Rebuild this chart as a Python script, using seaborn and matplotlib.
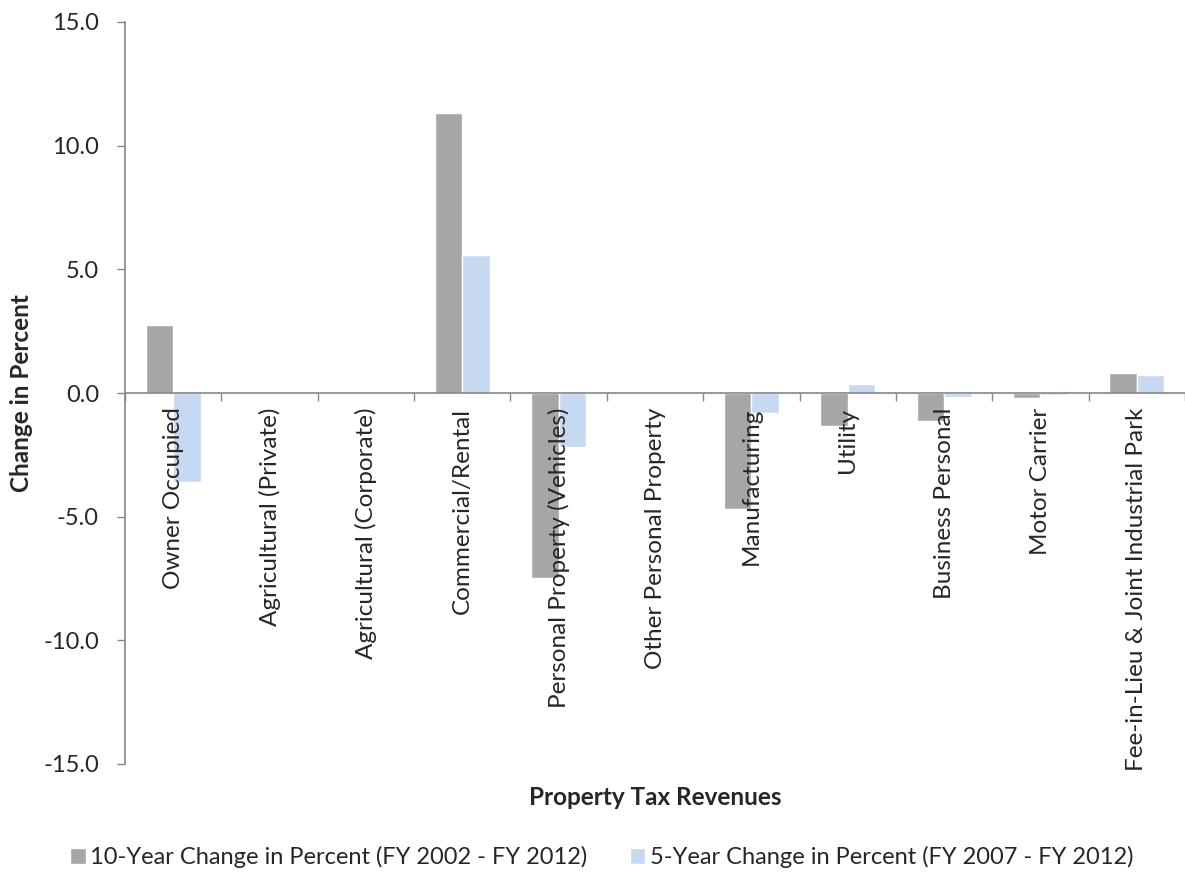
import numpy as np
import pandas as pd
import seaborn as sns
import matplotlib.pyplot as plt
from matplotlib.ticker import FuncFormatter, FixedLocator

categories = [
    "Owner Occupied", "Agricultural (Private)", "Agricultural (Corporate)",
    "Commercial/Rental", "Personal Property (Vehicles)", "Other Personal Property",
    "Manufacturing", "Utility", "Business Personal", "Motor Carrier",
    "Fee-in-Lieu & Joint Industrial Park",
]
ten_year = [2.74, -0.05, -0.04, 11.32, -7.47, 0.0, -4.70, -1.33, -1.14, -0.20, 0.80]
five_year = [-3.61, -0.02, -0.01, 5.57, -2.17, 0.02, -0.80, 0.38, -0.16, -0.10, 0.74]
series_names = ["10-Year Change in Percent (FY 2002 - FY 2012)",
                "5-Year Change in Percent (FY 2007 - FY 2012)"]
y_ticks = [-15, -10, -5, 0, 5, 10, 15]

df = pd.DataFrame({
    "category": categories * 2,
    "series": [series_names[0]] * len(categories) + [series_names[1]] * len(categories),
    "value": ten_year + five_year,
})

sns.set_style("white")
plt.rcParams["font.family"] = ["Lato", "DejaVu Sans"]
plt.rcParams["axes.unicode_minus"] = False

axis_col = "#868686"
fig = plt.figure(figsize=(11.85, 8.72), dpi=100)
ax = fig.add_axes([125 / 1185, 1 - 764 / 872, 1060 / 1185, 742 / 872])

sns.barplot(data=df, x="category", y="value", hue="series",
            palette=["#A6A6A6", "#C6D9F1"], width=0.57, gap=0,
            saturation=1, ax=ax)
# labels sit on top of the bars like in excel
for p in ax.patches:
    p.set_zorder(1)
ax.xaxis.set_zorder(5)
ax.yaxis.set_zorder(5)

ax.set_ylim(-15, 15)
ax.set_xlim(-0.5, len(categories) - 0.5)
ax.yaxis.set_major_locator(FixedLocator(y_ticks))
ax.yaxis.set_major_formatter(FuncFormatter(lambda v, p: f"{v:.1f}"))
ax.tick_params(axis="y", length=5.8, width=1, color=axis_col, direction="out",
               labelsize=17, pad=13, left=True)

ax.spines["top"].set_visible(False)
ax.spines["right"].set_visible(False)
ax.spines["bottom"].set_position(("data", 0))
for s in ["left", "bottom"]:
    ax.spines[s].set_color(axis_col)
    ax.spines[s].set_linewidth(1.2)
    ax.spines[s].set_zorder(4)

ax.set_xticks(range(len(categories)))
ax.set_xticklabels(categories, rotation=90, fontsize=17.5, va="top", ha="center")
ax.set_xticks(np.arange(-0.5, len(categories), 1), minor=True)
ax.tick_params(axis="x", which="major", length=0, pad=10.5)
ax.tick_params(axis="x", which="minor", length=5.8, width=1, color=axis_col,
               direction="out", bottom=True)

ax.set_ylabel("Change in Percent", fontsize=17.5, fontweight="bold")
ax.yaxis.set_label_coords(-0.087, 0.5)
ax.set_xlabel("Property Tax Revenues", fontsize=17.5, fontweight="bold")
ax.xaxis.set_label_coords(0.5, -0.03)

handles, labels = ax.get_legend_handles_labels()
ax.get_legend().remove()
fig.legend(handles, labels, loc="center", bbox_to_anchor=(0.508, 1 - 857 / 872),
           ncol=2, frameon=False, fontsize=17, handlelength=0.65, handleheight=0.65,
           handletextpad=0.2, columnspacing=1.8)

fig.savefig("out.png", dpi=100)
